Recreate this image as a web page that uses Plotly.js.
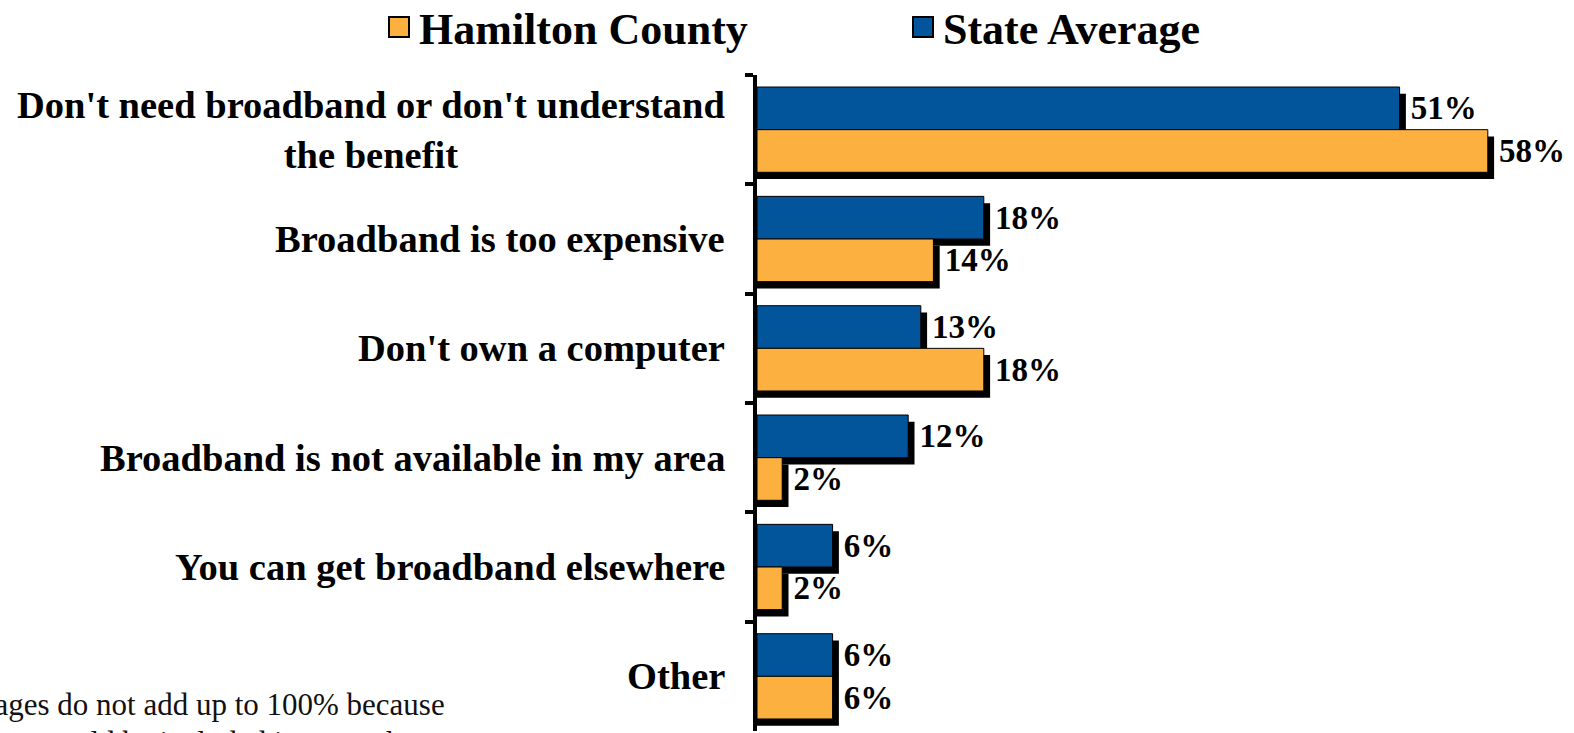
<!DOCTYPE html>
<html>
<head>
<meta charset="utf-8">
<script src="https://cdn.plot.ly/plotly-3.0.1.min.js"></script>
<style>
  html, body { margin: 0; padding: 0; background: #ffffff; }
  #chart { width: 1574px; height: 733px; }
</style>
</head>
<body>
<div id="chart"></div>
<script>
// ---- data ----
const categories = [
  "Don't need broadband or don't understand<br>the benefit",
  "Broadband is too expensive",
  "Don't own a computer",
  "Broadband is not available in my area",
  "You can get broadband elsewhere",
  "Other"
];
const stateAverage   = [51, 18, 13, 12, 6, 6];
const hamiltonCounty = [58, 14, 18, 2, 2, 6];
const seriesNames = ["Hamilton County", "State Average"];
const footnoteLines = [
  "*Percentages do not add up to 100% because",
  "respondents could be included in more than one category"
];

// ---- style ----
const BLUE = "#02559a";
const ORANGE = "#fbb040";
const SERIF = "'Liberation Serif', 'DejaVu Serif', serif";
const W = 0.39;          // bar thickness in category units
const SHX = 0.5;         // shadow x offset in % units
const SHY = 0.062;       // shadow y offset in category units
const pct = v => "\u00A0" + v + "%";

const labelFont = { family: SERIF, size: 33, color: "#000000", weight: "bold" };

const shadowBase = {
  type: "bar", orientation: "h", y: categories, base: 0, width: W,
  marker: { color: "#000000", line: { width: 0 } },
  showlegend: false, hoverinfo: "skip"
};

const traces = [
  Object.assign({}, shadowBase, {
    x: stateAverage.map(v => v + SHX), offset: -W + SHY
  }),
  Object.assign({}, shadowBase, {
    x: hamiltonCounty.map(v => v + SHX), offset: SHY
  }),
  {
    type: "bar", orientation: "h", name: seriesNames[1], legend: "legend2",
    y: categories, x: stateAverage, base: 0, width: W, offset: -W,
    marker: { color: BLUE, line: { color: "#000000", width: 1 } },
    text: stateAverage.map(pct), textposition: "outside", cliponaxis: false,
    constraintext: "none", textfont: labelFont
  },
  {
    type: "bar", orientation: "h", name: seriesNames[0], legend: "legend",
    y: categories, x: hamiltonCounty, base: 0, width: W, offset: 0,
    marker: { color: ORANGE, line: { color: "#000000", width: 1 } },
    text: hamiltonCounty.map(pct), textposition: "outside", cliponaxis: false,
    constraintext: "none", textfont: labelFont
  }
];

const L = 757, R = 13, T = 75, B = 2, PX_PER_PCT = 12.6;
const plotW = 1574 - L - R;
const xMax = plotW / PX_PER_PCT;

const annotations = categories.map(c => ({
  x: 0, xref: "paper", y: c, yref: "y", xanchor: "right", yanchor: "middle",
  xshift: -30, text: c, showarrow: false, align: "center",
  font: { family: SERIF, size: 38.5, color: "#000000", weight: "bold" }
}));
annotations.push({
  x: (447 - L) / plotW, xref: "paper", y: 0, yref: "paper",
  xanchor: "right", yanchor: "bottom", yshift: 7,
  text: footnoteLines[0], showarrow: false,
  font: { family: SERIF, size: 31, color: "#111111" }
});
annotations.push({
  x: (600 - L) / plotW, xref: "paper", y: 0, yref: "paper",
  xanchor: "right", yanchor: "top", yshift: 8,
  text: footnoteLines[1], showarrow: false,
  font: { family: SERIF, size: 31, color: "#111111" }
});

const legendCommon = {
  orientation: "h", xref: "container", yref: "container",
  y: 1, xanchor: "left", yanchor: "top",
  font: { family: SERIF, size: 44, color: "#000000", weight: "bold" },
  bgcolor: "rgba(0,0,0,0)", borderwidth: 0
};

const layout = {
  width: 1574, height: 733,
  margin: { l: L, r: R, t: T, b: B, pad: 0 },
  paper_bgcolor: "#ffffff", plot_bgcolor: "rgba(0,0,0,0)",
  barmode: "overlay",
  xaxis: { range: [0, xMax], showgrid: false, zeroline: false, showline: false,
           showticklabels: false, ticks: "" },
  yaxis: { type: "category", categoryorder: "array", categoryarray: categories,
           range: [categories.length - 0.5, -0.5],
           showgrid: false, zeroline: false, showline: true, linecolor: "#000000",
           linewidth: 4, ticks: "outside", tickson: "boundaries", ticklen: 8,
           tickwidth: 4, tickcolor: "#000000", showticklabels: false },
  showlegend: true,
  legend: Object.assign({}, legendCommon, { x: 379 / 1574 }),
  legend2: Object.assign({}, legendCommon, { x: 903 / 1574 }),
  annotations: annotations
};

Plotly.newPlot("chart", traces, layout, { displayModeBar: false, staticPlot: true }).then(gd => {
  gd.querySelectorAll(".legendpoints path").forEach(p => {
    p.setAttribute("d", "M10,10H-10V-10H10Z");
    p.style.strokeWidth = "2px";
    p.style.stroke = "#000000";
  });
  // nudge both legends up slightly to sit like the reference
  gd.querySelectorAll("g.legend, g.legend2").forEach(g => {
    const t = g.getAttribute("transform") || "";
    const m = t.match(/translate\(\s*([-\d.]+)[ ,]+([-\d.]+)\s*\)/);
    if (m) g.setAttribute("transform", `translate(${m[1]},${parseFloat(m[2]) - 8})`);
  });
});
</script>
</body>
</html>
